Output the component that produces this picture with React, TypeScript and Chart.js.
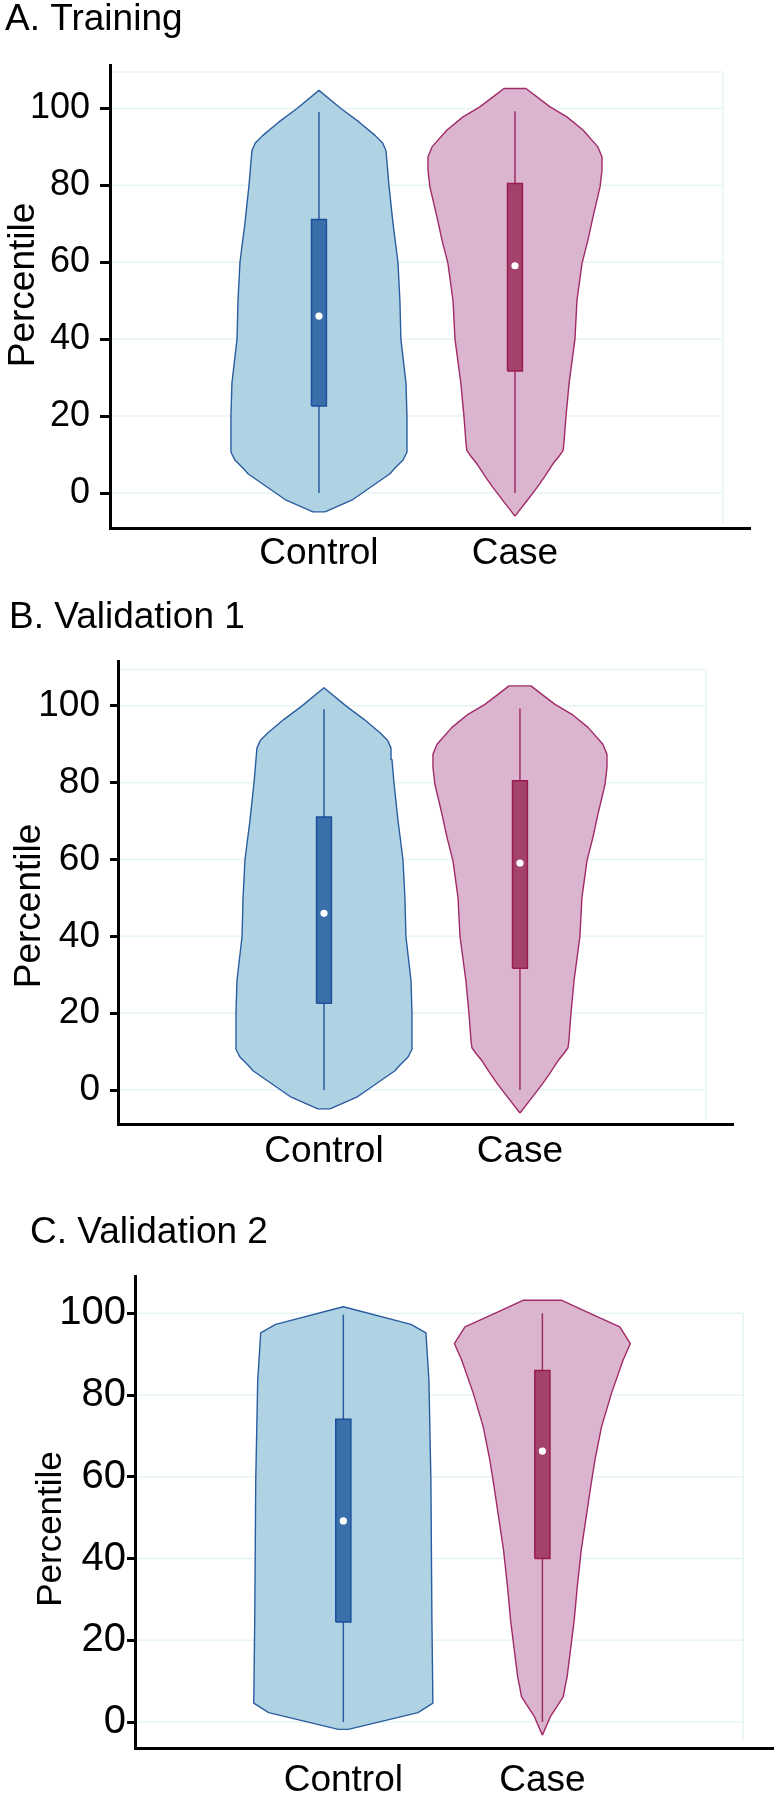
import React, { useEffect, useRef } from 'react';
import { Chart, registerables } from 'chart.js';

Chart.register(...registerables);

const FONT = '"Liberation Sans", Arial, Helvetica, sans-serif';
Chart.defaults.font.family = FONT;
Chart.defaults.color = '#000';

// ---------- data ----------
const categories = ['Control', 'Case'];
const yTickValues = [0, 20, 40, 60, 80, 100];
const yAxisTitle = 'Percentile';

// A. Training — violin outline: levels (percentile) and half-widths (category units)
const trainControlLevels = [-4.9, -1.7, 5, 6.5, 8.6, 10.6, 20, 28.5, 40, 50, 60, 70, 80, 86, 89, 91, 93, 96.5, 100, 104.7];
const trainControlWidths = [0.031, 0.173, 0.362, 0.388, 0.429, 0.449, 0.449, 0.444, 0.418, 0.413, 0.403, 0.378, 0.357, 0.347, 0.342, 0.325, 0.286, 0.204, 0.112, 0];
const trainCaseLevels = [-6, -2, 1.4, 4, 7.6, 9.5, 11, 13, 19.8, 28.5, 40, 50, 59.7, 65.7, 71.8, 79.6, 84, 87.4, 90, 94.4, 97.8, 100.4, 103, 105.2];
const trainCaseWidths = [0, 0.061, 0.112, 0.148, 0.194, 0.224, 0.245, 0.25, 0.26, 0.276, 0.306, 0.316, 0.342, 0.372, 0.398, 0.434, 0.444, 0.444, 0.423, 0.347, 0.265, 0.179, 0.112, 0.056];
// box stats: [whisker low, q1, median, q3, whisker high]
const trainControlBox = [0, 22.6, 46, 71.1, 99.1];
const trainCaseBox = [0, 31.7, 59.1, 80.5, 99.3];

// B. Validation 1
const valid1ControlLevels = [-4.9, -1.7, 5, 6.5, 8.6, 10.6, 20, 28.5, 40, 50, 60, 70, 80, 86, 89, 91, 93, 96.5, 100, 104.7];
const valid1ControlWidths = [0.031, 0.173, 0.362, 0.388, 0.429, 0.449, 0.449, 0.444, 0.418, 0.413, 0.403, 0.378, 0.357, 0.347, 0.342, 0.325, 0.286, 0.204, 0.112, 0];
const valid1CaseLevels = [-6, -2, 1.4, 4, 7.6, 9.5, 11, 13, 19.8, 28.5, 40, 50, 59.7, 65.7, 71.8, 79.6, 84, 87.4, 90, 94.4, 97.8, 100.4, 103, 105.2];
const valid1CaseWidths = [0, 0.061, 0.112, 0.148, 0.194, 0.224, 0.245, 0.25, 0.26, 0.276, 0.306, 0.316, 0.342, 0.372, 0.398, 0.434, 0.444, 0.444, 0.423, 0.347, 0.265, 0.179, 0.112, 0.056];
const valid1ControlBox = [0, 22.6, 46, 71.1, 99.1];
const valid1CaseBox = [0, 31.7, 59.1, 80.5, 99.3];

// C. Validation 2
const valid2ControlLevels = [-1.8, 2.3, 4.6, 25, 59, 83.6, 95.2, 97.3, 101.6];
const valid2ControlWidths = [0.025, 0.375, 0.45, 0.445, 0.44, 0.43, 0.415, 0.34, 0];
const valid2CaseLevels = [-3.2, 1.3, 3.7, 6.2, 8.6, 11, 16.8, 25, 33, 42, 51.8, 58.3, 64.1, 72.2, 80.4, 88.5, 92.6, 96.7, 100, 103.2];
const valid2CaseWidths = [0, 0.04, 0.072, 0.105, 0.114, 0.124, 0.139, 0.16, 0.175, 0.195, 0.225, 0.245, 0.264, 0.297, 0.347, 0.405, 0.442, 0.389, 0.239, 0.095];
const valid2ControlBox = [0, 24.5, 49.2, 74.1, 99.7];
const valid2CaseBox = [0, 40, 66.3, 86, 100];

// ---------- styles ----------
const BOX_HALF = 0.038;
const CONTROL_STYLE = { fill: '#b0d3e3', line: '#2a5d9f', whisker: '#2a5d9f', boxFill: '#3a70aa', boxLine: '#1d4e9e' };
const CASE_STYLE = { fill: '#dbb5d0', line: '#a02a68', whisker: '#9c2f66', boxFill: '#a3426c', boxLine: '#9a1c4c' };
const GRID_COLOR = '#e6f4f4';

type Panel = {
  title: string;
  top: number; height: number;
  padLeft: number; padRight: number;
  titlePadTop: number; titlePadBottom: number;
  yWidth: number; xHeight: number;
  yMin: number; yMax: number; xMin: number; xMax: number;
  tickFont: number; tickLength: number; tickPadding: number; catPadding: number;
  yTitleX: number; yTitleY: number; yTitleSize: number;
  boxTop: number | null; boxBottom: number; boxRight: number;
  control: { levels: number[]; widths: number[]; box: number[] };
  caseV: { levels: number[]; widths: number[]; box: number[] };
};

const panels: Panel[] = [
  {
    title: 'A. Training', top: 0, height: 590,
    padLeft: 5, padRight: 27, titlePadTop: 1, titlePadBottom: 27,
    yWidth: 105, xHeight: 62,
    yMin: -9.1, yMax: 111.3, xMin: -0.066, xMax: 3.199,
    tickFont: 36, tickLength: 10, tickPadding: 10, catPadding: 7.5,
    yTitleX: 24, yTitleY: 285, yTitleSize: 37,
    boxTop: 109.5, boxBottom: -7.9, boxRight: 3.061,
    control: { levels: trainControlLevels, widths: trainControlWidths, box: trainControlBox },
    caseV: { levels: trainCaseLevels, widths: trainCaseWidths, box: trainCaseBox },
  },
  {
    title: 'B. Validation 1', top: 590, height: 600,
    padLeft: 9, padRight: 44, titlePadTop: 9, titlePadBottom: 25.7,
    yWidth: 109, xHeight: 66,
    yMin: -8.85, yMax: 111.5, xMin: -0.051, xMax: 3.087,
    tickFont: 37, tickLength: 8, tickPadding: 10, catPadding: 9.2,
    yTitleX: 30, yTitleY: 316, yTitleSize: 37,
    boxTop: 109.5, boxBottom: -7.7, boxRight: 2.949,
    control: { levels: valid1ControlLevels, widths: valid1ControlWidths, box: valid1ControlBox },
    caseV: { levels: valid1CaseLevels, widths: valid1CaseWidths, box: valid1CaseBox },
  },
  {
    title: 'C. Validation 2', top: 1190, height: 610,
    padLeft: 30, padRight: 1, titlePadTop: 24, titlePadBottom: 25.7,
    yWidth: 105, xHeight: 51.7,
    yMin: -6.43, yMax: 108.95, xMin: -0.0465, xMax: 3.1585,
    tickFont: 40, tickLength: 8, tickPadding: 1, catPadding: 13.7,
    yTitleX: 51, yTitleY: 339, yTitleSize: 35,
    boxTop: null, boxBottom: -4.5, boxRight: 3.0085,
    control: { levels: valid2ControlLevels, widths: valid2ControlWidths, box: valid2ControlBox },
    caseV: { levels: valid2CaseLevels, widths: valid2CaseWidths, box: valid2CaseBox },
  },
];

const decoPlugin = {
  id: 'panelDeco',
  beforeDatasetsDraw(chart: any, _args: any, opts: any) {
    const { ctx, chartArea, scales } = chart;
    const xs = scales.x;
    const ys = scales.y;
    const right = xs.getPixelForValue(opts.boxRight);
    ctx.save();
    ctx.strokeStyle = GRID_COLOR;
    ctx.lineWidth = 1.5;
    const lines = opts.boxTop != null ? [...yTickValues, opts.boxTop] : [...yTickValues];
    for (const v of lines) {
      const py = ys.getPixelForValue(v);
      ctx.beginPath();
      ctx.moveTo(chartArea.left + 2, py);
      ctx.lineTo(right, py);
      ctx.stroke();
    }
    const topV = opts.boxTop != null ? opts.boxTop : 100;
    ctx.beginPath();
    ctx.moveTo(right, ys.getPixelForValue(topV));
    ctx.lineTo(right, ys.getPixelForValue(opts.boxBottom));
    ctx.stroke();
    ctx.restore();
  },
  afterDraw(chart: any, _args: any, opts: any) {
    const { ctx } = chart;
    ctx.save();
    ctx.translate(opts.yTitleX, opts.yTitleY);
    ctx.rotate(-Math.PI / 2);
    ctx.fillStyle = '#000';
    ctx.font = `${opts.yTitleSize}px ${FONT}`;
    ctx.textAlign = 'center';
    ctx.textBaseline = 'middle';
    ctx.fillText(opts.yTitle, 0, 0);
    ctx.restore();
  },
};

function violinDatasets(pos: number, levels: number[], widths: number[], box: number[], st: any) {
  const right = levels.map((y, i) => ({ x: pos + widths[i], y }));
  const left = levels.map((y, i) => ({ x: pos - widths[i], y })).reverse();
  const outline = [...right, ...left, right[0]];
  const [lo, q1, med, q3, hi] = box;
  return [
    {
      data: outline, borderColor: st.line, backgroundColor: st.fill, borderWidth: 1.4,
      fill: 'shape', pointRadius: 0, order: 3, borderJoinStyle: 'round', tension: 0,
    },
    {
      data: [{ x: pos, y: lo }, { x: pos, y: hi }], borderColor: st.whisker, borderWidth: 1.5,
      fill: false, pointRadius: 0, order: 2,
    },
    {
      data: [
        { x: pos - BOX_HALF, y: q1 }, { x: pos + BOX_HALF, y: q1 }, { x: pos + BOX_HALF, y: q3 },
        { x: pos - BOX_HALF, y: q3 }, { x: pos - BOX_HALF, y: q1 },
      ],
      borderColor: st.boxLine, backgroundColor: st.boxFill, borderWidth: 1.5,
      fill: 'shape', pointRadius: 0, order: 1,
    },
    {
      data: [{ x: pos, y: med }], showLine: false, pointRadius: 3.6,
      pointBackgroundColor: '#ffffff', pointBorderColor: '#ffffff', pointBorderWidth: 0, order: 0,
    },
  ];
}

function buildConfig(p: Panel): any {
  const datasets = [
    ...violinDatasets(categories.indexOf('Control') + 1, p.control.levels, p.control.widths, p.control.box, CONTROL_STYLE),
    ...violinDatasets(categories.indexOf('Case') + 1, p.caseV.levels, p.caseV.widths, p.caseV.box, CASE_STYLE),
  ];
  return {
    type: 'line',
    data: { datasets },
    options: {
      responsive: false,
      animation: false,
      events: [],
      devicePixelRatio: 1,
      layout: { padding: { left: p.padLeft, right: p.padRight, top: 0, bottom: 0 } },
      plugins: {
        legend: { display: false },
        tooltip: { enabled: false },
        filler: { drawTime: 'beforeDatasetDraw' },
        title: {
          display: true, text: p.title, align: 'start', color: '#000',
          font: { size: 37, weight: 'normal', lineHeight: 1, family: FONT },
          padding: { top: p.titlePadTop, bottom: p.titlePadBottom },
        },
        panelDeco: {
          boxTop: p.boxTop, boxBottom: p.boxBottom, boxRight: p.boxRight,
          yTitle: yAxisTitle, yTitleX: p.yTitleX, yTitleY: p.yTitleY, yTitleSize: p.yTitleSize,
        },
      },
      scales: {
        x: {
          type: 'linear', min: p.xMin, max: p.xMax,
          afterBuildTicks: (s: any) => { s.ticks = categories.map((_, i) => ({ value: i + 1 })); },
          afterFit: (s: any) => { s.height = p.xHeight; },
          grid: { display: false, drawTicks: false, tickLength: 0 },
          border: { display: true, color: '#000', width: 3 },
          ticks: {
            autoSkip: false, maxRotation: 0, color: '#000', padding: p.catPadding,
            font: { size: 37, lineHeight: 1, family: FONT },
            callback: (v: any) => categories[Math.round(v) - 1] ?? '',
          },
        },
        y: {
          type: 'linear', min: p.yMin, max: p.yMax,
          afterBuildTicks: (s: any) => { s.ticks = yTickValues.map((v) => ({ value: v })); },
          afterFit: (s: any) => { s.width = p.yWidth; },
          grid: {
            display: true, drawOnChartArea: false, drawTicks: true,
            tickLength: p.tickLength, tickColor: '#000', tickWidth: 3,
          },
          border: { display: true, color: '#000', width: 3 },
          ticks: {
            color: '#000', padding: p.tickPadding,
            font: { size: p.tickFont, lineHeight: 1, family: FONT },
            callback: (v: any) => String(v),
          },
        },
      },
    },
    plugins: [decoPlugin],
  };
}

function ViolinPanel({ panel }: { panel: Panel }) {
  const ref = useRef<HTMLCanvasElement>(null);
  useEffect(() => {
    const chart = new Chart(ref.current as HTMLCanvasElement, buildConfig(panel));
    return () => chart.destroy();
  }, [panel]);
  return (
    <canvas
      ref={ref}
      width={777}
      height={panel.height}
      style={{ position: 'absolute', left: 0, top: panel.top, width: 777, height: panel.height, display: 'block' }}
    />
  );
}

export default function App() {
  return (
    <div style={{ position: 'absolute', left: 0, top: 0, width: 777, height: 1800, background: '#ffffff', overflow: 'hidden' }}>
      {panels.map((p) => (
        <ViolinPanel key={p.title} panel={p} />
      ))}
    </div>
  );
}
